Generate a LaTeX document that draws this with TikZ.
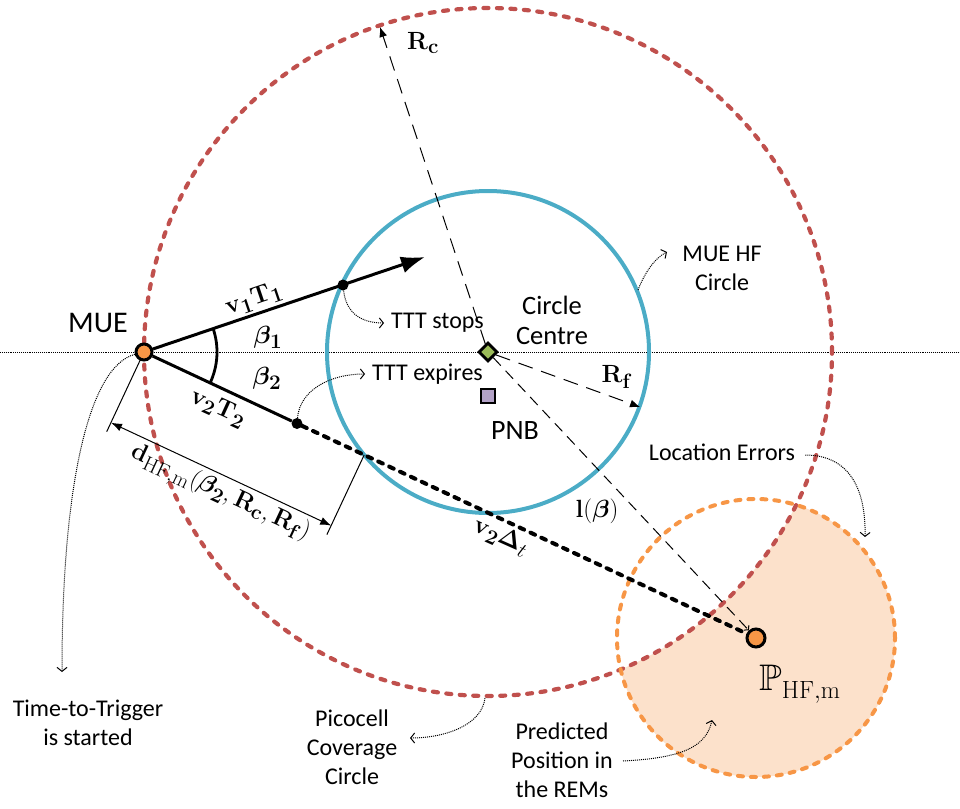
\documentclass[tikz,border=0pt]{standalone}
\usepackage[no-math]{fontspec}
\setmainfont{Carlito}
\usepackage{amsmath,amssymb,bm}
\usetikzlibrary{arrows.meta,calc}
\definecolor{picored}{HTML}{C0504D}
\definecolor{hfblue}{HTML}{4BACC6}
\definecolor{errorange}{HTML}{F79646}
\definecolor{errfill}{HTML}{FCE1CB}
\definecolor{cgreen}{HTML}{9BBB59}
\definecolor{pnbpurple}{HTML}{B3A2C7}
\tikzset{
  txt/.style={font=\fontsize{24}{29}\selectfont, align=center, inner sep=0pt},
  mlbl/.style={font=\fontsize{28}{30}\selectfont, inner sep=0pt},
  redcirc/.style={draw=picored, line width=4.2pt, dash pattern=on 5pt off 8.5pt, line cap=round},
  bluecirc/.style={draw=hfblue, line width=4pt},
  orangecirc/.style={draw=errorange, line width=4pt, dash pattern=on 5pt off 8pt, line cap=round},
  vline/.style={line width=3pt},
  dashline/.style={line width=4pt, dash pattern=on 5pt off 7pt, line cap=round},
  thindash/.style={line width=1pt, dash pattern=on 15pt off 9pt},
  anno/.style={densely dotted, line width=1pt, -{Straight Barb[length=4pt,width=10pt]}},
  mue/.style={circle, draw=black, fill=errorange, line width=3pt, minimum size=16pt, inner sep=0pt},
  blackdot/.style={circle, fill=black, minimum size=11pt, inner sep=0pt},
  dimline/.style={line width=1pt},
}
\begin{document}
\begin{tikzpicture}[x=1pt,y=-1pt]
\useasboundingbox (0,0) rectangle (960,808);
% key coordinates
\coordinate (c) at (488,352);
\coordinate (hl) at (0,352);
\coordinate (hr) at (960,352);
\coordinate (tip) at (425,257);
\coordinate (Pc) at (756,638);
% error region fill
\begin{scope}
  \clip (Pc) circle (139pt);
  \fill[errfill, even odd rule] (-10,-10) rectangle (970,818) (c) circle (344pt);
\end{scope}
% horizontal reference line
\draw[densely dotted, line width=0.9pt] (hl) -- (hr);
% circles
\draw[redcirc] (c) circle (344pt);
\draw[bluecirc] (c) circle (161pt);
\draw[orangecirc] (Pc) circle (139pt);
% nodes
\node[mue] (mue) at (144,352) {};
\node[mue, minimum size=18pt] (P) at (Pc) {};
\node[draw=black, fill=cgreen, line width=2.8pt, minimum size=12.5pt, inner sep=0pt, rotate=45] (cc) at (c) {};
\node[draw=black, fill=pnbpurple, line width=2.6pt, minimum size=14pt, inner sep=0pt] (pnb) at (488,396) {};
\coordinate (rctip) at (380,27);
\coordinate (rftip) at (640,407);
\coordinate (e) at ($(mue.center)!0.3598!(P.center)$);
% radius lines
\draw[thindash, -{Latex[length=10pt,width=8pt]}] (cc) -- (rctip);
\draw[thindash, -{Latex[length=10pt,width=8pt]}] (cc) -- (rftip);
\draw[line width=1pt, dash pattern=on 11pt off 7pt, -{Straight Barb[length=3pt,width=7pt]}] (cc) -- (P);
% trajectories
\draw[vline, -{Latex[length=24pt,width=17pt]}] (mue) -- (tip);
\node[blackdot] (d1) at (343,285) {};
\node[blackdot] (d2) at ($(mue.center)!0.25!(P.center)$) {};
\draw[vline] (mue) -- (d2);
\draw[dashline] (d2) -- (P);
\draw[line width=2.8pt] ([shift={(18.68:73pt)}]mue.center) arc[start angle=18.68, end angle=-25.05, radius=73pt];
% dimension
\coordinate (a1) at (140.6,359.2);
\coordinate (a2) at (106.7,431.7);
\coordinate (b2) at (326.9,534.6);
\coordinate (m1) at (111.0,422.7);
\coordinate (m2) at (331.2,525.6);
\draw[dimline] (a1) -- (a2);
\draw[dimline] (e) -- (b2);
\draw[dimline, {Latex[length=11pt,width=8pt]}-{Latex[length=11pt,width=8pt]}] (m1) -- (m2);
% math labels
\node[mlbl, rotate=18.7] (lv1) at (254,299) {$\mathbf{v_1T_1}$};
\node[mlbl] (lb1) at (268,337) {$\bm{\beta_1}$};
\node[mlbl] (lb2) at (267,378) {$\bm{\beta_2}$};
\node[mlbl, rotate=-24.6] (lv2) at (218,408) {$\mathbf{v_2T_2}$};
\node[mlbl, rotate=-25] (ld) at (220,494) {$\mathbf{d}_{\mathrm{HF,m}}(\bm{\beta_2},\mathbf{R_c},\mathbf{R_f})$};
\node[mlbl, rotate=-24] (ldt) at (501,537) {$\mathbf{v_2}\bm{\Delta}_t$};
\node[mlbl] (llb) at (597,511) {$\mathbf{l}(\bm{\beta})$};
\node[mlbl] (lrf) at (617,377) {$\mathbf{R_f}$};
\node[mlbl] (lrc) at (423,43) {$\mathbf{R_c}$};
\node[font=\fontsize{37}{40}\selectfont, inner sep=0pt] (lp) at (800,684) {$\mathbb{P}_{\mathrm{HF,m}}$};
% text labels
\node[txt, font=\fontsize{30}{34}\selectfont] (tmue) at (98,323) {MUE};
\node[txt, anchor=west] (ttts) at (391,323) {TTT stops};
\node[txt, anchor=west] (ttte) at (372,374) {TTT expires};
\node[txt, font=\fontsize{26.5}{30}\selectfont] (tcc) at (552,320) {Circle\\Centre};
\node[txt, font=\fontsize{28}{32}\selectfont] (tpnb) at (515,431) {PNB};
\node[txt] (thf) at (722,268) {MUE HF\\Circle};
\node[txt] (tloc) at (722,452) {Location Errors};
\node[txt] (ttrig) at (88,723) {Time-to-Trigger\\is started};
\node[txt] (tpico) at (352,747) {Picocell\\Coverage\\Circle};
\node[txt] (tpred) at (562,760) {Predicted\\Position in\\the REMs};
% annotation arrows
\coordinate (hfs) at (638,290);
\coordinate (hfe) at (667,252);
\coordinate (loce) at (865,537);
\coordinate (trige) at (62,672);
\coordinate (pcs) at (485,698);
\coordinate (pce) at (410,738);
\coordinate (prs) at (623,761);
\coordinate (pre) at (712,720);
\draw[anno, shorten >=7pt] (d1) .. controls (346,312) and (360,323) .. (ttts.west);
\draw[anno, shorten >=7pt] (d2) .. controls (300,390) and (330,374) .. (ttte.west);
\draw[anno] (hfs) .. controls (645,272) and (655,258) .. (hfe);
\draw[anno] ([xshift=10pt,yshift=-3pt]tloc.east) .. controls (850,455) and (866,490) .. (loce);
\draw[anno] (mue) .. controls (90,366) and (62,480) .. (trige);
\draw[anno] (pcs) .. controls (482,725) and (445,738) .. (pce);
\draw[anno] (prs) .. controls (680,758) and (706,748) .. (pre);
\end{tikzpicture}
\end{document}
